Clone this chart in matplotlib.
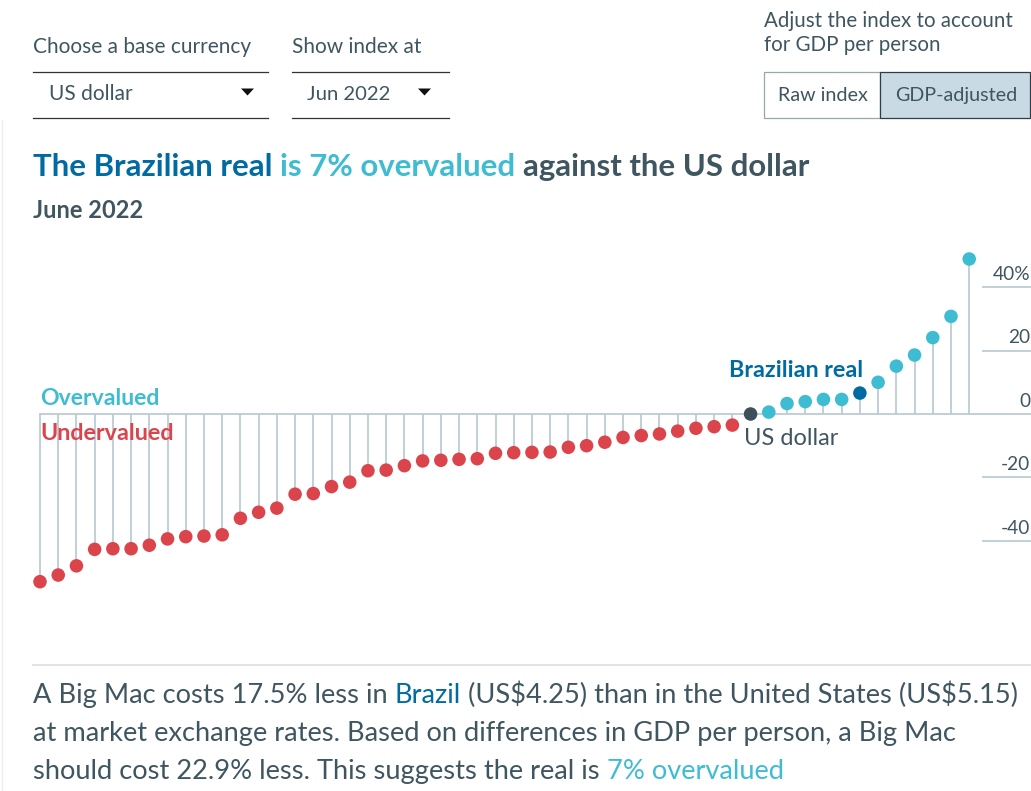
import matplotlib
matplotlib.use('Agg')
import matplotlib.pyplot as plt
from matplotlib.patches import Rectangle, Polygon
from matplotlib.lines import Line2D

W, H = 1031, 791
plt.rcParams['font.family'] = ['Lato', 'DejaVu Sans']
plt.rcParams['text.parse_math'] = False

# GDP-adjusted Big Mac index against the US dollar, June 2022 (%)
undervalued = [-52.9, -50.8, -47.9, -42.7, -42.5, -42.5, -41.4, -39.4, -38.7, -38.5,
               -38.1, -32.9, -31.0, -29.7, -25.3, -25.1, -22.9, -21.5, -17.9,
               -17.7, -16.3, -14.8, -14.6, -14.3, -14.1, -12.4, -12.2, -12.1, -12.0,
               -10.5, -10.0, -8.9, -7.4, -6.8, -6.3, -5.4, -4.5, -4.0, -3.5]
base_value = 0.0
overvalued = [0.6, 3.3, 3.9, 4.6, 4.6, 6.6, 10.0, 15.1, 18.6, 24.1, 30.8, 48.9]
brazil_pos = 5
tick_values = [40, 20, 0, -20, -40]
tick_labels = ['40%', '20', '0', '-20', '-40']

SLATE = '#3f5661'
RED = '#db444b'
CYAN = '#3ebcd2'
BLUE = '#006ba2'
DOLLAR = '#3d4f59'
STEM = '#bccbd4'

values = undervalued + [base_value] + overvalued
base_idx = len(undervalued)
brazil_idx = base_idx + 1 + brazil_pos
xs = list(range(len(values)))
colors = [RED] * len(undervalued) + [DOLLAR] + [CYAN] * len(overvalued)
colors[brazil_idx] = BLUE


def fx(px):
    return px / W


def fy(py):
    return 1 - py / H


fig = plt.figure(figsize=(W / 100, H / 100), dpi=100)
renderer = fig.canvas.get_renderer()


def rich_text(x, y, parts, **kw):
    # draw coloured pieces one after another, separated by a space
    probe = fig.text(0, 0, 'x x', **kw)
    w2 = probe.get_window_extent(renderer).width
    probe.set_text('xx')
    space = w2 - probe.get_window_extent(renderer).width
    probe.remove()
    for s, c in parts:
        t = fig.text(fx(x), fy(y), s, color=c, va='baseline', **kw)
        x += t.get_window_extent(renderer).width + space


# ---- controls at the top ----
fig.text(fx(33), fy(53), 'Choose a base currency', color=SLATE, fontsize=15, va='baseline')
fig.text(fx(292), fy(53), 'Show index at', color=SLATE, fontsize=15, va='baseline')
for x0, x1 in [(33, 268), (292, 449)]:
    for yy in (71.5, 117.5):
        fig.add_artist(Line2D([fx(x0), fx(x1)], [fy(yy), fy(yy)], color='#333333', lw=0.9))
fig.text(fx(49), fy(100), 'US dollar', color=SLATE, fontsize=15, va='baseline')
fig.text(fx(307), fy(100), 'Jun 2022', color=SLATE, fontsize=14.6, va='baseline')
for tx in (241, 418):
    fig.add_artist(Polygon([(fx(tx), fy(88.5)), (fx(tx + 13), fy(88.5)), (fx(tx + 6.5), fy(95.5))],
                           closed=True, color='#111111', lw=0))

fig.text(fx(764), fy(27), 'Adjust the index to account', color=SLATE, fontsize=14.8, va='baseline')
fig.text(fx(764), fy(51), 'for GDP per person', color=SLATE, fontsize=14.8, va='baseline')
fig.add_artist(Rectangle((fx(763.5), fy(118)), fx(880 - 763.5), 46 / H, transform=fig.transFigure,
                         facecolor='white', edgecolor='#9aa6ad', lw=0.9))
fig.add_artist(Rectangle((fx(880), fy(118)), fx(1030 - 880), 46 / H, transform=fig.transFigure,
                         facecolor='#cadae5', edgecolor='#2f3d45', lw=0.9))
fig.text(fx(822.5), fy(101), 'Raw index', color=SLATE, fontsize=14.2, va='baseline', ha='center')
fig.text(fx(956), fy(101), 'GDP-adjusted', color=SLATE, fontsize=14.2, va='baseline', ha='center')

# faint page edge on the left
fig.add_artist(Line2D([fx(1.5), fx(1.5)], [fy(120), 0], color='#eeeeee', lw=1))

# ---- title ----
rich_text(33, 176, [('The Brazilian real', BLUE), ('is 7% overvalued', CYAN),
                    ('against the US dollar', SLATE)], fontsize=22.4, fontweight='bold')
fig.text(fx(33), fy(218), 'June 2022', color=SLATE, fontsize=17, fontweight='bold', va='baseline')

# ---- lollipop chart ----
step = 18.22
x0_px = 40
top_px, bot_px, zero_px, unit_px = 240, 600, 414, 3.17
ax = fig.add_axes([0, fy(bot_px), 1, (bot_px - top_px) / H])
ax.set_xlim(-x0_px / step, (W - x0_px) / step)
ax.set_ylim((zero_px - bot_px) / unit_px, (zero_px - top_px) / unit_px)
ax.axis('off')

trans = ax.get_yaxis_transform()
ax.plot([fx(x0_px), 1], [0, 0], color=STEM, lw=1.3, transform=trans, zorder=1)
for v, lab in zip(tick_values, tick_labels):
    if v != 0:
        ax.plot([fx(983), fx(1030)], [v, v], color=STEM, lw=1.3, transform=trans, zorder=1)
    ax.text(fx(1030), v + 2.3, lab, color=SLATE, fontsize=13.8, ha='right', va='baseline',
            transform=trans)

stem_x = [x for x in xs if x != base_idx]
stem_v = [values[x] for x in stem_x]
ax.vlines(stem_x, 0, stem_v, color=STEM, lw=1.3, zorder=1)
ax.scatter(xs, values, s=95, c=colors, linewidths=0, zorder=3)

ax.text(0, 2.8, 'Overvalued', color=CYAN, fontsize=16.6, fontweight='bold', va='baseline')
ax.text(0, -8.2, 'Undervalued', color=RED, fontsize=16.8, fontweight='bold', va='baseline')
ax.text(brazil_idx + 0.2, 11.7, 'Brazilian real', color=BLUE, fontsize=16.8, fontweight='bold',
        ha='right', va='baseline')
ax.text(base_idx - 0.35, -9.8, 'US dollar', color=SLATE, fontsize=17, va='baseline')

# ---- footnote ----
fig.add_artist(Line2D([fx(33), 1], [fy(665), fy(665)], color='#d9dfe3', lw=1.2))
body = dict(fontsize=19.6)
rich_text(33, 703, [('A Big Mac costs 17.5% less in', SLATE), ('Brazil', BLUE),
                    ('(US$4.25) than in the United States (US$5.15)', SLATE)], **body)
rich_text(33, 741, [('at market exchange rates. Based on differences in GDP per person, a Big Mac', SLATE)], **body)
rich_text(33, 779, [('should cost 22.9% less. This suggests the real is', SLATE),
                    ('7% overvalued', CYAN)], **body)

fig.savefig('out.png', dpi=100)
